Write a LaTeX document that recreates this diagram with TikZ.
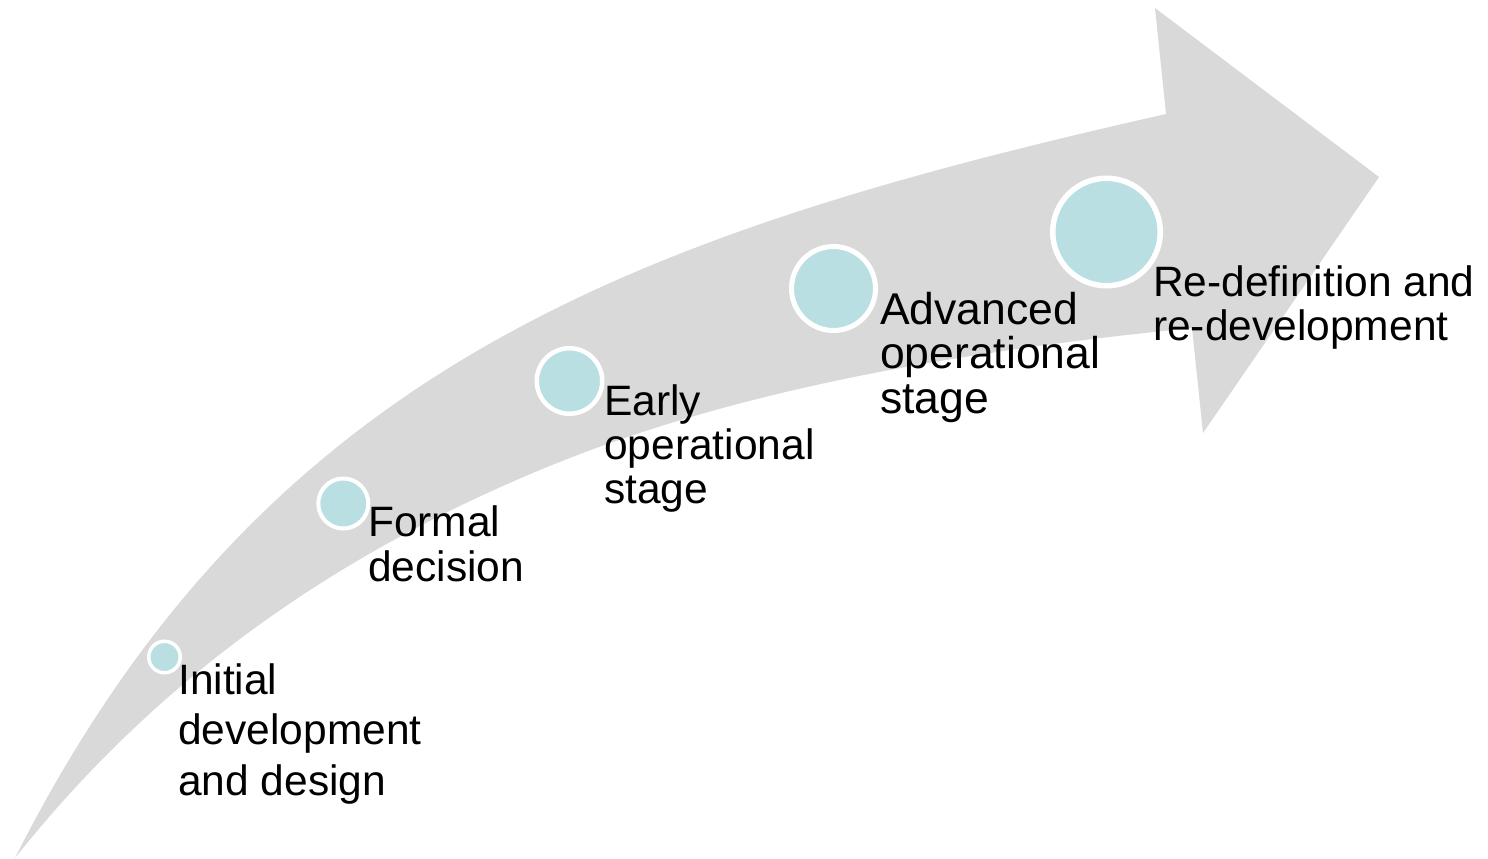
\documentclass[tikz,border=0pt]{standalone}
\usepackage{fontspec}
\setmainfont{Liberation Sans}
\definecolor{shaftgray}{HTML}{D9D9D9}
\definecolor{dotteal}{HTML}{B9DFE3}
\begin{document}
\begin{tikzpicture}[x=1pt,y=-1pt,
  dotnode/.style={circle, fill=dotteal, draw=white, inner sep=0pt},
  steptext/.style={anchor=base west, align=left, inner sep=0pt, text=black}]
\useasboundingbox (0,0) rectangle (1488,859);
% curved upward arrow: upper edge, head, lower edge back to the tail
\fill[shaftgray]
  (15,858) .. controls (262,369) and (630,235) .. (1166,114)
  -- (1155,8) -- (1379,177) -- (1203,433) -- (1192,328)
  .. controls (943,353) and (724.6,393) .. (540,470)
  .. controls (355,547) and (170,663) .. (15,858)
  -- cycle;
% stage markers
\node[dotnode, line width=3.5pt, minimum size=31.5pt]  (c1) at (164.5,657) {};
\node[dotnode, line width=4pt,   minimum size=50pt]    (c2) at (343.3,503.5) {};
\node[dotnode, line width=4.5pt, minimum size=65.5pt]  (c3) at (569.5,381) {};
\node[dotnode, line width=5pt,   minimum size=84pt]    (c4) at (833.5,288.5) {};
\node[dotnode, line width=5.5pt, minimum size=107.5pt] (c5) at (1106.5,232) {};
% stage labels (placed by the baseline of their last line)
\node[steptext, font=\fontsize{42.5}{50.5}\selectfont] (t1) at (178,795) {Initial\\development\\and design};
\node[steptext, font=\fontsize{42.5}{45}\selectfont]   (t2) at (368,581) {Formal\\decision};
\node[steptext, font=\fontsize{42.5}{44}\selectfont]   (t3) at (604,503) {Early\\operational\\stage};
\node[steptext, font=\fontsize{44.5}{44.5}\selectfont] (t4) at (880,413) {Advanced\\operational\\stage};
\node[steptext, font=\fontsize{42.5}{43.5}\selectfont] (t5) at (1153,340) {Re-definition and\\re-development};
\end{tikzpicture}
\end{document}
